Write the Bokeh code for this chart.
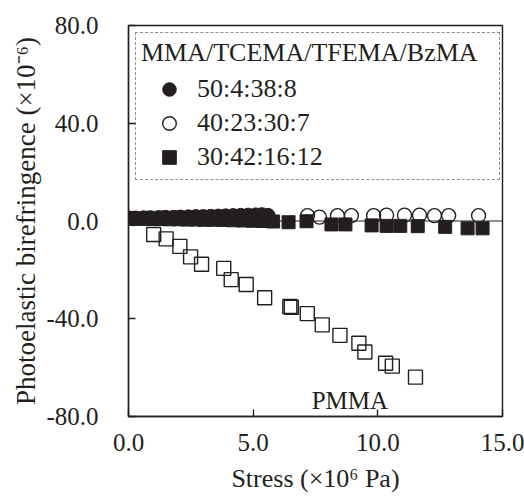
from bokeh.plotting import figure
from bokeh.models import Range1d, Legend, LegendItem, Label, Span, FixedTicker, NumeralTickFormatter
from bokeh.embed import file_html
from bokeh.resources import INLINE

INK = "#231f20"
FONT = "Liberation Serif"

# ---- data ----
# 50:4:38:8 (filled circles)
fc_x = [0.05, 0.3, 0.6, 0.9, 1.2, 1.5, 1.8, 2.1, 2.4, 2.7, 3.0, 3.3, 3.6, 3.9, 4.2, 4.5, 4.8, 5.1, 5.35, 5.6]
fc_y = [1.2, 1.2, 1.3, 1.3, 1.4, 1.5, 1.5, 1.6, 1.7, 1.8, 1.8, 1.9, 2.0, 2.1, 2.2, 2.3, 2.4, 2.5, 2.6, 2.3]
# 40:23:30:7 (open circles)
oc_x = [0.2, 0.8, 1.4, 2.0, 2.6, 3.2, 3.8, 4.4, 5.0, 5.5,
        7.18, 7.66, 8.38, 8.94, 9.83, 10.35, 11.07, 11.67, 12.27, 12.84, 14.04]
oc_y = [1.0, 1.1, 1.2, 1.3, 1.4, 1.5, 1.6, 1.7, 1.8, 1.9,
        2.2, 1.6, 2.2, 2.2, 2.2, 2.4, 2.4, 2.4, 2.2, 2.2, 2.2]
# 30:42:16:12 (filled squares)
fs_x = [0.05, 0.35, 0.7, 1.0, 1.3, 1.65, 2.0, 2.35, 2.7, 3.05, 3.4, 3.8, 4.2, 4.6, 5.0, 5.4, 5.8,
        6.42, 7.14, 8.14, 8.7, 9.75, 10.35, 10.9, 11.6, 12.7, 13.6, 14.2]
fs_y = [1.0, 0.9, 0.9, 0.8, 0.8, 0.7, 0.7, 0.6, 0.6, 0.5, 0.5, 0.4, 0.3, 0.2, 0.1, 0.0, -0.2,
        -0.5, -0.1, -1.4, -1.4, -1.8, -2.0, -2.0, -2.1, -2.4, -3.0, -3.0]
# PMMA (open squares)
pm_x = [1.01, 1.51, 2.06, 2.49, 2.93, 3.82, 4.12, 4.72, 5.46, 6.47, 6.53, 7.17, 7.77, 8.48, 9.24, 9.48,
        10.31, 10.58, 11.51]
pm_y = [-5.5, -7.3, -10.4, -14.7, -17.7, -19.4, -24.0, -26.0, -31.4, -35.0, -35.3, -37.9, -42.5, -46.8,
        -50.0, -53.6, -58.2, -59.4, -63.9]

x_ticks = [0, 5, 10, 15]
y_ticks = [-80, -40, 0, 40, 80]
x_title = "Stress (×10⁶ Pa)"
y_title = "Photoelastic birefringence (×10⁻⁶)"
legend_title = "MMA/TCEMA/TFEMA/BzMA"
labels = ["50:4:38:8", "40:23:30:7", "30:42:16:12"]

p = figure(width=524, height=496, output_backend="svg", toolbar_location=None,
           x_range=Range1d(0, 15), y_range=Range1d(-80, 80),
           min_border_left=128, min_border_right=22, min_border_top=25, min_border_bottom=80)

p.grid.visible = False
p.background_fill_color = "white"
p.border_fill_color = "white"
p.outline_line_color = INK
p.outline_line_width = 1.4

p.add_layout(Span(location=0, dimension="width", line_color=INK, line_width=1.2))

r_oc = p.scatter(oc_x, oc_y, marker="circle", size=14, fill_color=None, line_color=INK, line_width=1.4)
r_fc = p.scatter(fc_x, fc_y, marker="circle", size=14, fill_color=INK, line_color=INK, line_width=1)
r_fs = p.scatter(fs_x, fs_y, marker="square", size=13, fill_color=INK, line_color=INK, line_width=1)
r_pm = p.scatter(pm_x, pm_y, marker="square", size=14, fill_color=None, line_color=INK, line_width=1.4)

for ax in (p.xaxis[0], p.yaxis[0]):
    ax.axis_line_color = INK
    ax.axis_line_width = 1.4
    ax.major_tick_line_color = INK
    ax.major_tick_line_width = 1.4
    ax.major_tick_in = 7
    ax.major_tick_out = 0
    ax.minor_tick_line_color = None
    ax.major_label_text_font = FONT
    ax.major_label_text_font_size = "25px"
    ax.major_label_text_color = INK
    ax.axis_label_text_font = FONT
    ax.axis_label_text_font_style = "normal"
    ax.axis_label_text_color = INK
    ax.formatter = NumeralTickFormatter(format="0.0")

p.xaxis.ticker = FixedTicker(ticks=x_ticks)
p.yaxis.ticker = FixedTicker(ticks=y_ticks)
p.xaxis.axis_label = x_title
p.yaxis.axis_label = y_title
p.xaxis.axis_label_text_font_size = "26px"
p.yaxis.axis_label_text_font_size = "27px"
p.xaxis.major_label_standoff = 17
p.yaxis.major_label_standoff = 30
p.xaxis.axis_label_standoff = 10
p.yaxis.axis_label_standoff = 2

legend = Legend(items=[LegendItem(label=labels[0], renderers=[r_fc]),
                       LegendItem(label=labels[1], renderers=[r_oc]),
                       LegendItem(label=labels[2], renderers=[r_fs])],
                title=legend_title, location=(7, 236), padding=5,
                title_text_font=FONT, title_text_font_size="26px", title_text_font_style="normal",
                title_text_color=INK, title_standoff=4,
                label_text_font=FONT, label_text_font_size="26px", label_text_color=INK,
                label_height=34, glyph_height=34, glyph_width=56, label_standoff=0, spacing=0,
                label_width=297,
                border_line_color=INK, border_line_dash="1 1", border_line_width=1.2,
                background_fill_alpha=0)
p.add_layout(legend)

p.add_layout(Label(x=8.88, y=-73.4, text="PMMA", text_align="center", text_baseline="alphabetic",
                   text_font=FONT, text_font_size="25px", text_color=INK))

open("out.html", "w").write(file_html(p, INLINE))
